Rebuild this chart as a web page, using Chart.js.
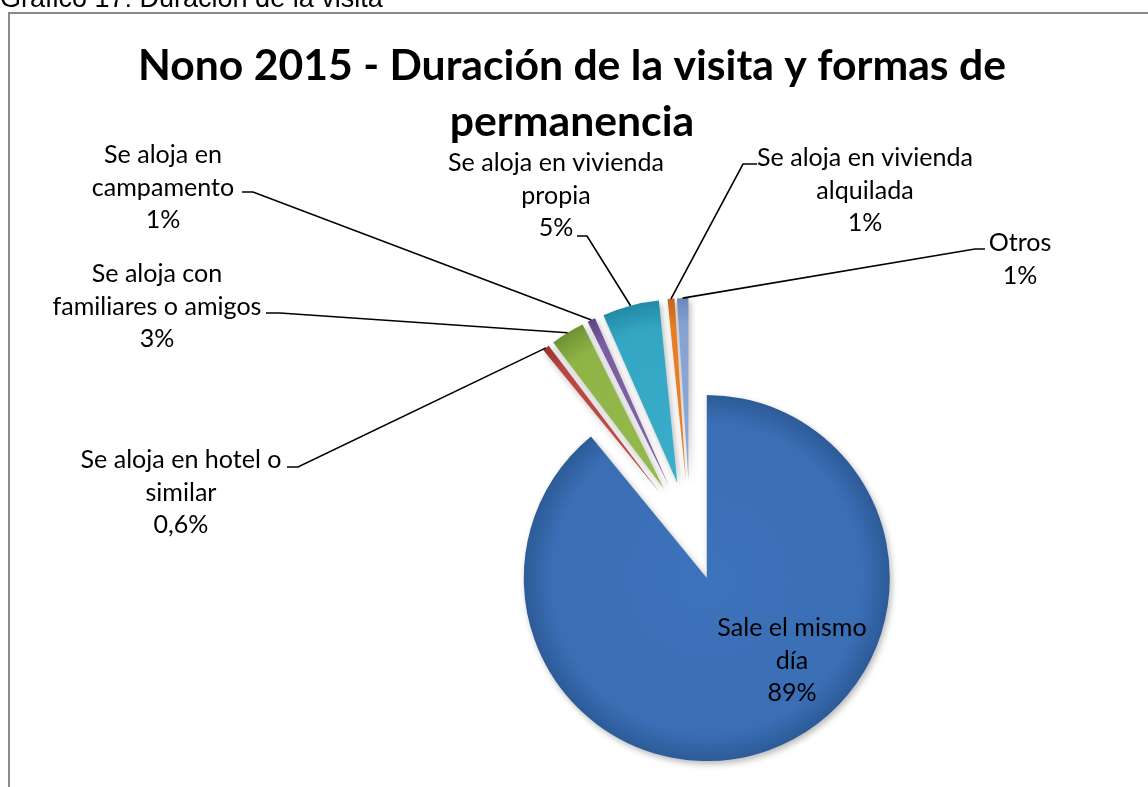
<!DOCTYPE html>
<html><head><meta charset="utf-8">
<script src="https://cdn.jsdelivr.net/npm/chart.js@4.4.1/dist/chart.umd.min.js"></script>
<style>
html,body{margin:0;padding:0;background:#fff;overflow:hidden;}
#wrap{position:relative;width:1148px;height:787px;}
canvas{position:absolute;left:0;top:0;}
#cap{position:absolute;left:0;top:-17px;font-family:"Liberation Sans",Arial,sans-serif;font-size:27px;line-height:30px;color:#000;white-space:nowrap;z-index:2;}
</style></head>
<body><div id="wrap"><canvas id="c" width="1148" height="787"></canvas><div id="cap">Gráfico 17: Duración de la visita</div></div>
<script>
// ---- data ----
const categories = [
  ['Sale el mismo','día'],
  ['Se aloja en hotel o','similar'],
  ['Se aloja con','familiares o amigos'],
  ['Se aloja en','campamento'],
  ['Se aloja en vivienda','propia'],
  ['Se aloja en vivienda','alquilada'],
  ['Otros']
];
const shares = [89, 0.6, 3, 0.7, 5, 0.6, 1];
const shareLabels = ['89%','0,6%','3%','1%','5%','1%','1%'];
const titleLines = ['Nono 2015 - Duración de la visita y formas de','permanencia'];

// ---- style ----
const sliceColors = ['#3a6eb5','#bb4541','#8db445','#7a5ca1','#33a6c4','#e97b22','#86a2d2'];
const sliceLight  = ['#3d73bb','#c24d49','#95bb4d','#8064a8','#3aaecb','#f0842a','#8eaad8'];
const sliceDark   = ['#2d5b98','#9a3331','#6f9232','#5f4683','#238aa6','#c4641a','#6c88b8'];
const RADIUS = 183, EXPLODE = 50, LINE_H = 32.5;
const LABEL_LAYOUT = [
  {x:792, y:628},
  {x:181, y:460, leader:[287,467,298]},
  {x:157, y:274, leader:[266,313,280]},
  {x:163, y:155, leader:[242,192,253]},
  {x:556, y:163, leader:[577,236,587]},
  {x:865, y:158, leader:[757,164,743]},
  {x:1020, y:243, leader:[985,249,975]}
];

// exploded slices drawn by the library's arc element, shifted along their mid angle
const baseArcDraw = Chart.ArcElement.prototype.draw;
Chart.ArcElement.prototype.draw = function(ctx){
  const mid = (this.startAngle + this.endAngle) / 2;
  ctx.save();
  ctx.translate(Math.cos(mid) * EXPLODE, Math.sin(mid) * EXPLODE);
  ctx.shadowColor = 'rgba(0,0,0,0.28)';
  ctx.shadowBlur = 6; ctx.shadowOffsetX = 2; ctx.shadowOffsetY = 3;
  baseArcDraw.call(this, ctx);
  ctx.restore();
};

function fitFont(ctx, weight, family, text, target){
  ctx.font = weight + ' 100px ' + family;
  return 100 * target / ctx.measureText(text).width;
}

const decor = {
  id:'decor',
  beforeDraw(chart){
    const ctx = chart.ctx;
    ctx.save();
    ctx.strokeStyle = '#8a8a8a'; ctx.lineWidth = 2;
    ctx.beginPath(); ctx.moveTo(9, 787); ctx.lineTo(9, 13); ctx.lineTo(1148, 13); ctx.stroke();
    const ts = fitFont(ctx, 'bold', 'Lato', titleLines[0], 868);
    ctx.font = 'bold ' + ts + 'px Lato';
    ctx.fillStyle = '#000'; ctx.textAlign = 'center'; ctx.textBaseline = 'middle';
    titleLines.forEach((t, k) => ctx.fillText(t, 572, 66 + k * 56));
    ctx.restore();
  },
  afterDatasetsDraw(chart){
    const ctx = chart.ctx;
    const meta = chart.getDatasetMeta(0);
    const fs = fitFont(ctx, '', 'Lato', 'familiares o amigos', 209);
    ctx.save();
    ctx.font = fs + 'px Lato';
    ctx.fillStyle = '#000'; ctx.textAlign = 'center'; ctx.textBaseline = 'middle';
    ctx.strokeStyle = '#000'; ctx.lineWidth = 1.6;
    meta.data.forEach((arc, i) => {
      const L = LABEL_LAYOUT[i];
      const lines = categories[i].concat([shareLabels[i]]);
      lines.forEach((t, k) => ctx.fillText(t, L.x, L.y + k * LINE_H));
      if (L.leader) {
        const mid = (arc.startAngle + arc.endAngle) / 2;
        const d = arc.outerRadius + EXPLODE;
        const tx = arc.x + Math.cos(mid) * d, ty = arc.y + Math.sin(mid) * d;
        ctx.beginPath();
        ctx.moveTo(L.leader[0], L.leader[1]);
        ctx.lineTo(L.leader[2], L.leader[1]);
        ctx.lineTo(tx, ty);
        ctx.stroke();
      }
    });
    ctx.restore();
  }
};

new Chart(document.getElementById('c'), {
  type:'pie',
  data:{
    labels: categories,
    datasets:[{
      data: shares,
      radius: RADIUS,
      borderWidth: 0,
      backgroundColor: (c) => {
        const i = c.dataIndex;
        const a = c.chart.chartArea;
        if (i === undefined || !a) return sliceColors[0];
        const cx = (a.left + a.right) / 2, cy = (a.top + a.bottom) / 2;
        const g = c.chart.ctx.createRadialGradient(cx, cy, 0, cx, cy, RADIUS);
        g.addColorStop(0, sliceLight[i]);
        g.addColorStop(0.85, sliceColors[i]);
        g.addColorStop(1, sliceDark[i]);
        return g;
      }
    }]
  },
  options:{
    responsive:false,
    animation:false,
    events:[],
    layout:{padding:{left:440, right:208, top:281, bottom:6}},
    plugins:{legend:{display:false}, title:{display:false}, tooltip:{enabled:false}}
  },
  plugins:[decor]
});
</script>
</body></html>
